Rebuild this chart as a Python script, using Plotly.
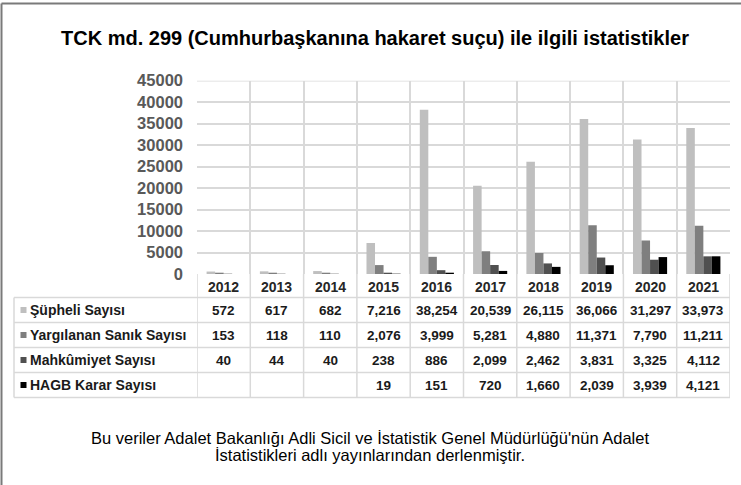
import plotly.graph_objects as go

W, H = 741, 485

years = ['2012', '2013', '2014', '2015', '2016', '2017', '2018', '2019', '2020', '2021']
series_names = ['Şüpheli Sayısı', 'Yargılanan Sanık Sayısı', 'Mahkûmiyet Sayısı', 'HAGB Karar Sayısı']
supheli = [572, 617, 682, 7216, 38254, 20539, 26115, 36066, 31297, 33973]
yargilanan = [153, 118, 110, 2076, 3999, 5281, 4880, 11371, 7790, 11211]
mahkumiyet = [40, 44, 40, 238, 886, 2099, 2462, 3831, 3325, 4112]
hagb = [None, None, None, 19, 151, 720, 1660, 2039, 3939, 4121]
y_ticks = [0, 5000, 10000, 15000, 20000, 25000, 30000, 35000, 40000, 45000]

series = [supheli, yargilanan, mahkumiyet, hagb]
colors = ['#bfbfbf', '#7f7f7f', '#505050', '#000000']

title = 'TCK md. 299 (Cumhurbaşkanına hakaret suçu) ile ilgili istatistikler'
note_lines = ["Bu veriler Adalet Bakanlığı Adli Sicil ve İstatistik Genel Müdürlüğü'nün Adalet",
              "İstatistikleri adlı yayınlarından derlenmiştir."]

FONT = 'Arial, Liberation Sans, sans-serif'
GRID = '#d9d9d9'


# pixel helpers (margins are zero, so paper == pixels)
def px(x):
    return x / W


def py(y):
    return 1 - y / H


plot_left, plot_right = 197, 730
plot_top, plot_bottom = 80.7, 274
table_top, row_h = 297.5, 25
table_left = 14

fig = go.Figure()
for name, vals, col in zip(series_names, series, colors):
    fig.add_trace(go.Bar(x=years, y=vals, name=name, marker=dict(color=col, line=dict(width=0)),
                         hoverinfo='x+y+name'))

shapes = []
annotations = []

# top gridline of the plot area
shapes.append(dict(type='line', xref='paper', yref='y', x0=px(plot_left), x1=px(plot_right),
                   y0=y_ticks[-1], y1=y_ticks[-1], line=dict(color=GRID, width=1.5)))

# vertical table lines at category boundaries, continuing the plot grid downwards
for i in range(len(years) + 1):
    shapes.append(dict(type='line', xref='x', yref='paper', x0=i - 0.5, x1=i - 0.5,
                       y0=py(plot_bottom), y1=py(table_top + 4 * row_h),
                       line=dict(color=GRID, width=1.5)))
shapes.append(dict(type='line', xref='paper', yref='paper', x0=px(table_left), x1=px(table_left),
                   y0=py(table_top), y1=py(table_top + 4 * row_h), line=dict(color=GRID, width=1.5)))
for r in range(5):
    yy = py(table_top + r * row_h)
    shapes.append(dict(type='line', xref='paper', yref='paper', x0=px(table_left), x1=px(plot_right),
                       y0=yy, y1=yy, line=dict(color=GRID, width=1.5)))

# year header row (category axis annotations take the category index)
for i, yr in enumerate(years):
    annotations.append(dict(x=i, xref='x', y=py(287), yref='paper', text='<b>' + yr + '</b>',
                            showarrow=False, yanchor='middle',
                            font=dict(family=FONT, size=14, color='#262626')))

# legend column + values
for r, (name, vals, col) in enumerate(zip(series_names, series, colors)):
    yc = table_top + r * row_h + row_h / 2
    shapes.append(dict(type='rect', xref='paper', yref='paper', x0=px(20.5), x1=px(26.5),
                       y0=py(yc + 3), y1=py(yc - 3), fillcolor=col, line=dict(width=0)))
    annotations.append(dict(x=px(28), xref='paper', y=py(yc), yref='paper', text='<b>' + name + '</b>',
                            showarrow=False, xanchor='left', yanchor='middle',
                            font=dict(family=FONT, size=14, color='#1a1a1a')))
    for i, v in enumerate(vals):
        if v is None:
            continue
        annotations.append(dict(x=i, xref='x', y=py(yc), yref='paper', text=f'<b>{v:,}</b>',
                                showarrow=False, yanchor='middle',
                                font=dict(family=FONT, size=13.5, color='#1a1a1a')))

# title and source note
annotations.append(dict(x=px(375.5), y=py(38), xref='paper', yref='paper', text='<b>' + title + '</b>',
                        showarrow=False, yanchor='middle',
                        font=dict(family=FONT, size=20, color='#000000')))
for k, line in enumerate(note_lines):
    annotations.append(dict(x=px(370), y=py(438 + 16.5 * k), xref='paper', yref='paper', text=line,
                            showarrow=False, yanchor='middle',
                            font=dict(family=FONT, size=16.5, color='#000000')))

# outer frame (top and left edge only)
shapes.append(dict(type='line', xref='paper', yref='paper', x0=px(1.5), x1=1, y0=py(3.5), y1=py(3.5),
                   line=dict(color='#7a7a7a', width=2)))
shapes.append(dict(type='line', xref='paper', yref='paper', x0=px(1.5), x1=px(1.5), y0=py(3.5), y1=0,
                   line=dict(color='#7a7a7a', width=2)))

fig.update_layout(
    width=W, height=H,
    margin=dict(l=0, r=0, t=0, b=0, autoexpand=False),
    paper_bgcolor='white', plot_bgcolor='white',
    showlegend=False,
    barmode='group', bargap=0.36, bargroupgap=0,
    shapes=shapes, annotations=annotations,
    font=dict(family=FONT),
    xaxis=dict(domain=[px(plot_left), px(plot_right)], type='category', range=[-0.5, 9.5],
               tickson='boundaries', showgrid=True, gridcolor=GRID, gridwidth=1.5,
               showticklabels=False, ticks='', showline=False, zeroline=False, fixedrange=True,
               automargin=False),
    yaxis=dict(domain=[py(plot_bottom), py(plot_top)], range=[0, 45000], tickvals=y_ticks,
               tickformat='d', showgrid=True, gridcolor=GRID, gridwidth=1.5, zeroline=False,
               showline=False, ticks='', ticklabelstandoff=13, automargin=False,
               tickfont=dict(family=FONT, size=16.5, color='#595959', weight='bold'), fixedrange=True),
)

# the page body has a default 8px margin; drop it so the figure sits at the window's corner
fig.write_html('out.html', config={'displayModeBar': False},
               post_script="document.body.style.margin='0';")
